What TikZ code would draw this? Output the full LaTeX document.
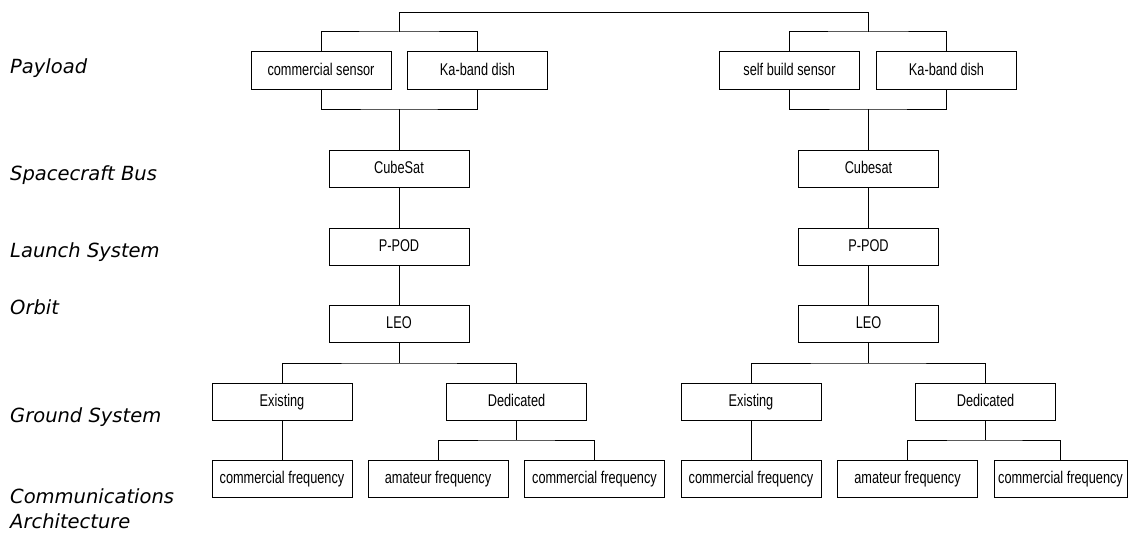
\documentclass[tikz,border=0pt]{standalone}
\usepackage{fontspec}
\setmainfont{Liberation Sans}
\newfontfamily\boxfont[FakeStretch=0.75]{Liberation Sans}
\newfontfamily\lblfont{DejaVu Sans Oblique}
\usepackage{tikz}
\usetikzlibrary{positioning}

\tikzset{
  blk/.style={draw, line width=1pt, minimum width=140pt, minimum height=37pt,
    inner sep=0pt, text height=12.5pt, text depth=3.5pt,
    font=\boxfont\fontsize{17}{19}\selectfont},
  lvl/.style={anchor=west, inner sep=0pt, align=left,
    font=\lblfont\fontsize{19.5}{25}\selectfont},
  con/.style={line width=1pt}
}

\begin{document}
\begin{tikzpicture}[x=1pt, y=-1pt]

            \useasboundingbox (0,0) rectangle (1129,535);

            % level labels
            \node[lvl] (lpay) at (10,68.5) {Payload};
            \node[lvl] (lbus) at (10,175) {Spacecraft Bus};
            \node[lvl] (llaunch) at (10,252) {Launch System};
            \node[lvl] (lorbit) at (10,307) {Orbit};
            \node[lvl] (lground) at (10,417.5) {Ground System};
            \node[lvl] (lcomm) at (10,509) {Communications\\Architecture};

            % left branch
            \node[blk] (sens1) at (321,70.5) {commercial sensor};
            \node[blk] (dish1) at (477.5,70.5) {Ka-band dish};
            \node[blk] (bus1) at (399,168.5) {CubeSat};
            \node[blk] (pod1) at (399,246.5) {P-POD};
            \node[blk] (leo1) at (399,323.5) {LEO};
            \node[blk] (ex1) at (282,401.5) {Existing};
            \node[blk] (ded1) at (516.5,401.5) {Dedicated};
            \node[blk] (cfa1) at (282,479) {commercial frequency};
            \node[blk] (am1) at (438,479) {amateur frequency};
            \node[blk] (cfb1) at (594.5,479) {commercial frequency};

            % right branch
            \node[blk] (sens2) at (789.5,70.5) {self build sensor};
            \node[blk] (dish2) at (946.5,70.5) {Ka-band dish};
            \node[blk] (bus2) at (868.5,168.5) {Cubesat};
            \node[blk] (pod2) at (868.5,246.5) {P-POD};
            \node[blk] (leo2) at (868.5,323.5) {LEO};
            \node[blk] (ex2) at (751,401.5) {Existing};
            \node[blk] (ded2) at (985.5,401.5) {Dedicated};
            \node[blk] (cfa2) at (751,479) {commercial frequency};
            \node[blk] (am2) at (907.5,479) {amateur frequency};
            \node[blk, minimum width=133pt] (cfb2) at (1060.5,479) {commercial frequency};

            % junctions
            \coordinate (pa1) at (399,32);
            \coordinate (pa2) at (868.5,32);
            \coordinate (pb1) at (399,109);
            \coordinate (pb2) at (868.5,109);
            \coordinate (g1) at (399,363);
            \coordinate (g2) at (868.5,363);
            \coordinate (d1) at (516.5,440);
            \coordinate (d2) at (985.5,440);

            % Connections: root to payloads
            \draw[con] (pa1) -- ++(0,-19) -| (pa2);
            \draw[con] (sens1.north) |- (pa1) -| (dish1.north);
            \draw[con] (sens2.north) |- (pa2) -| (dish2.north);

            % Connections: payload down to orbit
            \draw[con] (sens1.south) |- (pb1) -| (dish1.south);
            \draw[con] (sens2.south) |- (pb2) -| (dish2.south);
            \draw[con] (pb1) -- (bus1);
            \draw[con] (pb2) -- (bus2);
            \draw[con] (bus1) -- (pod1);
            \draw[con] (bus2) -- (pod2);
            \draw[con] (pod1) -- (leo1);
            \draw[con] (pod2) -- (leo2);

            % Connections: ground and communications
            \draw[con] (leo1) -- (g1);
            \draw[con] (leo2) -- (g2);
            \draw[con] (ex1.north) |- (g1) -| (ded1.north);
            \draw[con] (ex2.north) |- (g2) -| (ded2.north);
            \draw[con] (ex1) -- (cfa1);
            \draw[con] (ex2) -- (cfa2);
            \draw[con] (ded1) -- (d1);
            \draw[con] (ded2) -- (d2);
            \draw[con] (am1.north) |- (d1) -| (cfb1.north);
            \draw[con] (am2.north) |- (d2) -| (cfb2.north);

        \end{tikzpicture}
\end{document}
